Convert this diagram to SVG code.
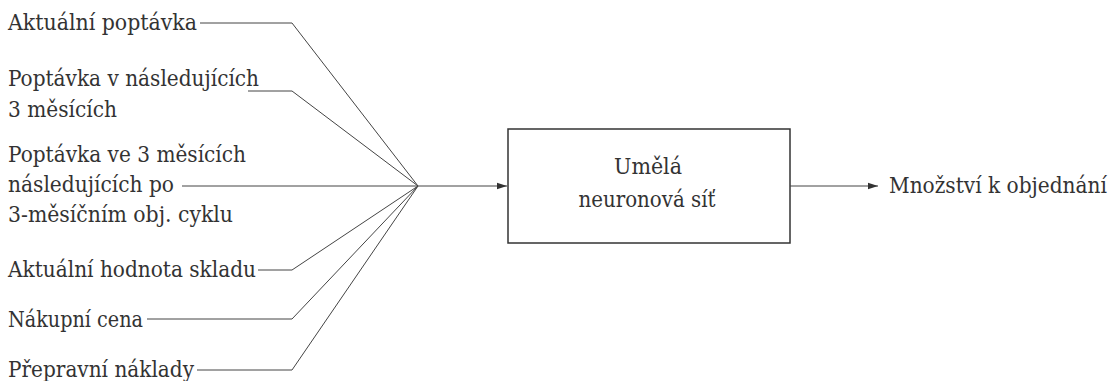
<svg xmlns="http://www.w3.org/2000/svg" width="1119" height="381" viewBox="0 0 1119 381">
  <defs>
    <marker id="arrow" viewBox="0 0 10 10" refX="10" refY="5" markerWidth="10" markerHeight="10" markerUnits="userSpaceOnUse" orient="auto">
      <path d="M0,1.8 L10,5 L0,8.2 Z" fill="#333"/>
    </marker>
    <style>
      .lbl { font-family: 'DejaVu Serif Condensed', 'DejaVu Serif', 'Liberation Serif', serif; font-stretch: condensed; font-size: 22px; fill: #333; }
      .mid { text-anchor: middle; }
      .wire { fill: none; stroke: #444; stroke-width: 1; }
      .box { fill: #fff; stroke: #333; stroke-width: 1.5; }
    </style>
  </defs>
  <rect width="1119" height="381" fill="#fff"/>

  <!-- inputs -->
  <g id="in-aktualni-poptavka">
    <text class="lbl" x="8" y="30" textLength="189" lengthAdjust="spacingAndGlyphs">Aktuální poptávka</text>
  </g>
  <g id="in-poptavka-3m">
    <text class="lbl" x="8" y="86" textLength="251" lengthAdjust="spacingAndGlyphs">Poptávka v následujících</text>
    <text class="lbl" x="8" y="117" textLength="109" lengthAdjust="spacingAndGlyphs">3 měsících</text>
  </g>
  <g id="in-poptavka-po-cyklu">
    <text class="lbl" x="8" y="162" textLength="238" lengthAdjust="spacingAndGlyphs">Poptávka ve 3 měsících</text>
    <text class="lbl" x="8" y="192" textLength="166" lengthAdjust="spacingAndGlyphs">následujících po</text>
    <text class="lbl" x="8" y="222" textLength="225" lengthAdjust="spacingAndGlyphs">3-měsíčním obj. cyklu</text>
  </g>
  <g id="in-sklad">
    <text class="lbl" x="8" y="277" textLength="248" lengthAdjust="spacingAndGlyphs">Aktuální hodnota skladu</text>
  </g>
  <g id="in-cena">
    <text class="lbl" x="8" y="327" textLength="135" lengthAdjust="spacingAndGlyphs">Nákupní cena</text>
  </g>
  <g id="in-preprava">
    <text class="lbl" x="8" y="377" textLength="186" lengthAdjust="spacingAndGlyphs">Přepravní náklady</text>
  </g>

  <!-- network -->
  <g id="neural-net">
    <rect class="box" x="508" y="129" width="282" height="114"/>
    <text class="lbl mid" x="648" y="174" textLength="68" lengthAdjust="spacingAndGlyphs">Umělá</text>
    <text class="lbl mid" x="647" y="207" textLength="137" lengthAdjust="spacingAndGlyphs">neuronová síť</text>
  </g>

  <!-- output -->
  <g id="out-mnozstvi">
    <text class="lbl" x="889" y="193" textLength="218" lengthAdjust="spacingAndGlyphs">Množství k objednání</text>
  </g>

  <!-- connectors -->
  <g id="connectors">
    <polyline class="wire" points="200,23 292,23 418,186"/>
    <polyline class="wire" points="248,91 292,91 418,186"/>
    <polyline class="wire" points="182,186 418,186"/>
    <polyline class="wire" points="258,270 292,270 418,186"/>
    <polyline class="wire" points="147,319 292,319 418,186"/>
    <polyline class="wire" points="197,370 292,370 418,186"/>
    <line class="wire" x1="418" y1="186" x2="507" y2="186" marker-end="url(#arrow)"/>
    <line class="wire" x1="790" y1="186" x2="878" y2="186" marker-end="url(#arrow)"/>
  </g>
</svg>
